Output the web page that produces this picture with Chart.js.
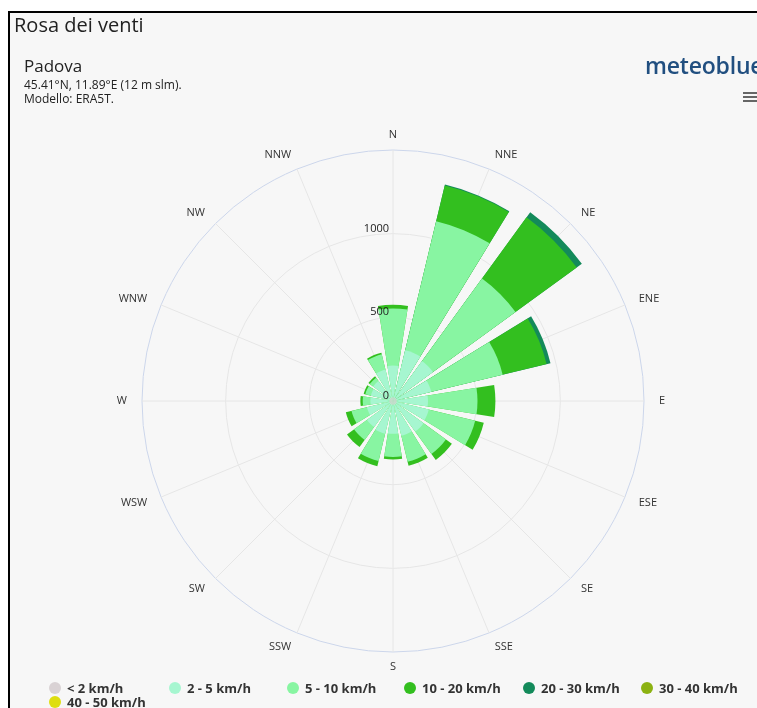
<!DOCTYPE html>
<html>
<head>
<meta charset="utf-8">
<script src="https://cdn.jsdelivr.net/npm/chart.js@4.4.1/dist/chart.umd.min.js"></script>
<style>
html,body{margin:0;padding:0;background:#fff;width:757px;height:708px;overflow:hidden;font-family:'Open Sans',sans-serif;}
#frame{position:absolute;left:8px;top:11px;width:760px;height:710px;border-top:2px solid #000;border-left:2px solid #000;background:#f7f7f7;}
#c{position:absolute;left:0;top:0;}
.t{position:absolute;white-space:nowrap;color:#222;}
#title{left:14px;top:12px;font-size:20px;line-height:26px;}
#place{left:24px;top:56px;font-size:17px;line-height:20px;}
#info1{left:24px;top:78px;font-size:12px;line-height:14px;}
#info2{left:24px;top:91.5px;font-size:12px;line-height:14px;}
#logo{left:645px;top:52px;font-size:23px;line-height:26px;font-weight:600;color:#214f80;letter-spacing:-0.2px;}
.bar{position:absolute;left:743px;width:16px;height:2px;background:#666;}
.lg{position:absolute;white-space:nowrap;font-size:13px;font-weight:700;color:#333;line-height:14px;}
.dot{position:absolute;width:12px;height:12px;border-radius:50%;}
</style>
</head>
<body>
<div id="frame"></div>
<canvas id="c" width="757" height="708"></canvas>
<div class="t" id="title">Rosa dei venti</div>
<div class="t" id="place">Padova</div>
<div class="t" id="info1">45.41°N, 11.89°E (12 m slm).</div>
<div class="t" id="info2">Modello: ERA5T.</div>
<div class="t" id="logo">meteoblue</div>
<div class="bar" style="top:92px"></div>
<div class="bar" style="top:96px"></div>
<div class="bar" style="top:100px"></div>
<div id="legend"></div>
<script>
// ---- data ----
const directions = ['N','NNE','NE','ENE','E','ESE','SE','SSE','S','SSW','SW','WSW','W','WNW','NW','NNW'];
const speedClasses = ['< 2 km/h','2 - 5 km/h','5 - 10 km/h','10 - 20 km/h','20 - 30 km/h','30 - 40 km/h','40 - 50 km/h'];
const below2    = [22,22,22,22,22,22,22,22,22,22,22,22,22,22,22,22];
const from2to5  = [190,290,273,213,187,198,204,192,174,179,170,138,113,114,125,171];
const from5to10 = [341,793,610,439,296,285,165,160,139,168,96,95,46,34,25,94];
const from10to20= [22,220,452,270,107,53,44,24,15,32,52,35,14,10,10,10];
const from20to30= [0,5,38,24,0,0,0,0,0,0,0,0,0,0,0,0];
const from30to40= [0,0,0,0,0,0,0,0,0,0,0,0,0,0,0,0];
const from40to50= [0,0,0,0,0,0,0,0,0,0,0,0,0,0,0,0];
const radialTicks = [0, 500, 1000, 1500];

const classColors = ['#d9d2d4','#a6f6d0','#88f5a2','#33bf1f','#138a5a','#8cb212','#dede10'];
const classValues = [below2, from2to5, from5to10, from10to20, from20to30, from30to40, from40to50];

// cumulative (stacked) radii per class
let running = directions.map(() => 0);
const datasets = classValues.map((vals, ci) => {
  running = running.map((s, i) => s + vals[i]);
  return {
    label: speedClasses[ci],
    data: running.slice(),
    backgroundColor: vals.map(v => v > 0 ? classColors[ci] : 'rgba(0,0,0,0)'),
    borderWidth: 0
  };
});

const GAP_DEG = 4.5;
const windroseShape = {
  id: 'windroseShape',
  afterDatasetsUpdate(chart) {
    const n = chart.data.labels.length;
    const half = Math.PI / n;
    const pad = GAP_DEG * Math.PI / 180 / 2;
    chart.data.datasets.forEach((ds, di) => {
      chart.getDatasetMeta(di).data.forEach(arc => {
        arc.startAngle = arc.startAngle - half + pad;
        arc.endAngle = arc.endAngle - half - pad;
      });
    });
  },
  afterDatasetsDraw(chart) {
    const r = chart.scales.r;
    const ctx = chart.ctx;
    ctx.save();
    ctx.fillStyle = '#333';
    ctx.font = '11px "Open Sans"';
    ctx.textBaseline = 'middle';
    chart.data.labels.forEach((lab, i) => {
      const ang = r.getIndexAngle(i);
      const s = Math.sin(ang);
      const p = r.getPointPosition(i, r.drawingArea + 15);
      ctx.textAlign = s > 0.05 ? 'left' : (s < -0.05 ? 'right' : 'center');
      ctx.fillText(lab, p.x, p.y);
    });
    ctx.textAlign = 'right';
    ctx.fillStyle = '#222';
    r.ticks.forEach(t => {
      if (t.value >= r.max) return;
      const d = r.getDistanceFromCenterForValue(t.value);
      ctx.fillText(String(t.value), r.xCenter - 4, r.yCenter - d - 5);
    });
    ctx.restore();
  }
};

new Chart(document.getElementById('c'), {
  type: 'polarArea',
  data: { labels: directions, datasets: datasets },
  options: {
    responsive: false,
    animation: false,
    devicePixelRatio: 1,
    layout: { padding: { left: 142, top: 150, right: 112, bottom: 55 } },
    plugins: { legend: { display: false }, tooltip: { enabled: false } },
    scales: {
      r: {
        min: radialTicks[0],
        max: radialTicks[radialTicks.length - 1],
        ticks: { display: false, stepSize: radialTicks[1] - radialTicks[0] },
        grid: { circular: true, lineWidth: 1, color: c => (c.tick && c.tick.value === 1500) ? '#ccd6eb' : '#e6e6e6' },
        angleLines: { display: true, color: '#e6e6e6', lineWidth: 1 },
        pointLabels: { display: false }
      }
    }
  },
  plugins: [windroseShape]
});

// HTML legend
const legend = document.getElementById('legend');
const legendPos = [[55,688],[175,688],[293,688],[410,688],[529,688],[647,688],[55,702]];
speedClasses.forEach((name, i) => {
  const [x, y] = legendPos[i];
  const d = document.createElement('div');
  d.className = 'dot';
  d.style.left = (x - 6) + 'px';
  d.style.top = (y - 6) + 'px';
  d.style.background = classColors[i];
  legend.appendChild(d);
  const t = document.createElement('div');
  t.className = 'lg';
  t.style.left = (x + 12) + 'px';
  t.style.top = (y - 7) + 'px';
  t.textContent = name;
  legend.appendChild(t);
});
</script>
</body>
</html>
